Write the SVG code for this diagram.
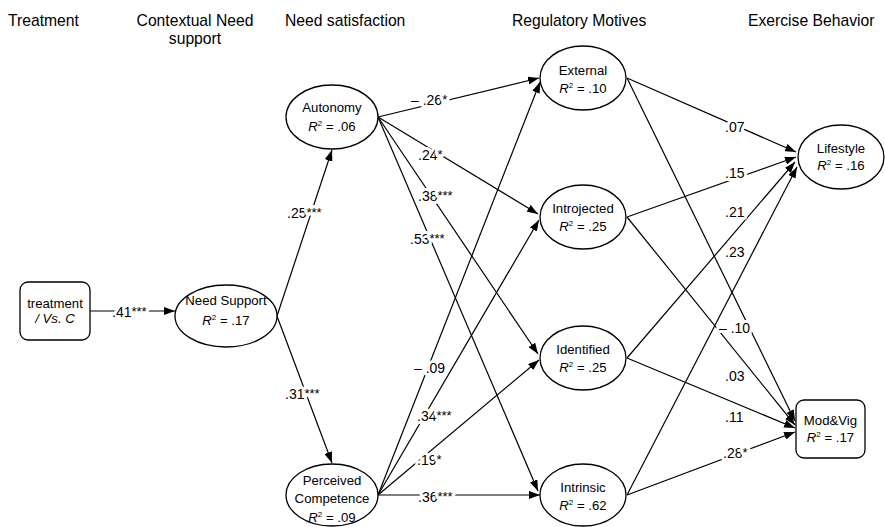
<svg xmlns="http://www.w3.org/2000/svg" width="885" height="527" viewBox="0 0 885 527">
<style>
text{font-family:"Liberation Sans",Arial,sans-serif;fill:#000}
.hd{font-size:15.7px}
.nt{font-size:13.2px;text-anchor:middle}
.it{font-style:italic}
.sup{font-size:8px}
.lbl{font-size:14px;paint-order:stroke;stroke:#fff;stroke-width:6px;stroke-linejoin:round}
.st{font-size:13px}
.node{fill:#fff;stroke:#000;stroke-width:1.3}
.edge{stroke:#000;stroke-width:1.2;fill:none}
.arr{marker-end:url(#ah)}
</style>
<defs>
<marker id="ah" markerUnits="userSpaceOnUse" markerWidth="11" markerHeight="8" refX="11" refY="4" orient="auto">
<path d="M0,0 L11,4 L0,8 z" fill="#000"/>
</marker>
</defs>
<rect width="885" height="527" fill="#fff"/>

<g id="headers">
<text class="hd" x="8" y="25.5">Treatment</text>
<text class="hd" x="195" y="25.5" text-anchor="middle">Contextual Need</text>
<text class="hd" x="195" y="43.5" text-anchor="middle">support</text>
<text class="hd" x="285" y="25.5">Need satisfaction</text>
<text class="hd" x="512" y="25.5">Regulatory Motives</text>
<text class="hd" x="748" y="25.5">Exercise Behavior</text>
</g>

<g id="connectors">
<line class="edge arr" x1="90" y1="311" x2="175" y2="311"/>
<line class="edge arr" x1="277" y1="316" x2="332" y2="150"/>
<line class="edge arr" x1="277" y1="316" x2="332" y2="463"/>
<line class="edge arr" x1="378" y1="117" x2="539" y2="78"/>
<line class="edge arr" x1="378" y1="117" x2="538" y2="214"/>
<line class="edge arr" x1="378" y1="117" x2="538" y2="354"/>
<line class="edge arr" x1="378" y1="117" x2="538" y2="491"/>
<line class="edge arr" x1="378" y1="495" x2="540" y2="82"/>
<line class="edge arr" x1="378" y1="495" x2="539" y2="220"/>
<line class="edge arr" x1="378" y1="495" x2="539" y2="360"/>
<line class="edge arr" x1="378" y1="495" x2="540" y2="495"/>
<line class="edge arr" x1="627" y1="78" x2="796" y2="152"/>
<line class="edge arr" x1="627" y1="217" x2="796" y2="157"/>
<line class="edge arr" x1="627" y1="358" x2="795" y2="162"/>
<line class="edge arr" x1="627" y1="495" x2="797" y2="167"/>
<line class="edge arr" x1="627" y1="78" x2="795" y2="421"/>
<line class="edge arr" x1="627" y1="217" x2="795" y2="425"/>
<line class="edge arr" x1="627" y1="358" x2="795" y2="428"/>
<line class="edge arr" x1="627" y1="495" x2="795" y2="432"/>
</g>

<g id="labels">
<text class="lbl" x="112" y="317">.41<tspan class="st" dy="-1.5">***</tspan></text>
<text class="lbl" x="287" y="218">.25<tspan class="st" dy="-1.5">***</tspan></text>
<text class="lbl" x="285" y="399">.31<tspan class="st" dy="-1.5">***</tspan></text>
<text class="lbl" x="411" y="105">– .26<tspan class="st" dy="-1.5">*</tspan></text>
<text class="lbl" x="418" y="160">.24<tspan class="st" dy="-1.5">*</tspan></text>
<text class="lbl" x="418" y="201">.38<tspan class="st" dy="-1.5">***</tspan></text>
<text class="lbl" x="410" y="244">.53<tspan class="st" dy="-1.5">***</tspan></text>
<text class="lbl" x="414" y="373">– .09</text>
<text class="lbl" x="417" y="421">.34<tspan class="st" dy="-1.5">***</tspan></text>
<text class="lbl" x="417" y="465">.19<tspan class="st" dy="-1.5">*</tspan></text>
<text class="lbl" x="418" y="502">.36<tspan class="st" dy="-1.5">***</tspan></text>
<text class="lbl" x="725" y="132">.07</text>
<text class="lbl" x="725" y="178">.15</text>
<text class="lbl" x="725" y="217">.21</text>
<text class="lbl" x="725" y="257">.23</text>
<text class="lbl" x="719" y="333">– .10</text>
<text class="lbl" x="725" y="381">.03</text>
<text class="lbl" x="725" y="422">.11</text>
<text class="lbl" x="723" y="458">.28<tspan class="st" dy="-1.5">*</tspan></text>
</g>

<g id="treatment">
<rect class="node" x="20" y="282" width="70" height="58" rx="8"/>
<text class="nt" x="55" y="308">treatment</text>
<text class="nt it" x="55" y="323">/ Vs. C</text>
</g>

<g id="need-support">
<ellipse class="node" cx="226" cy="316" rx="51" ry="31"/>
<text class="nt" x="226" y="305">Need Support</text>
<text class="nt" x="226" y="325"><tspan class="it">R</tspan><tspan class="sup" dy="-5">2</tspan><tspan dy="5"> = .17</tspan></text>
</g>

<g id="autonomy">
<ellipse class="node" cx="332" cy="117" rx="46" ry="32"/>
<text class="nt" x="332" y="112">Autonomy</text>
<text class="nt" x="332" y="131"><tspan class="it">R</tspan><tspan class="sup" dy="-5">2</tspan><tspan dy="5"> = .06</tspan></text>
</g>

<g id="perceived-competence">
<ellipse class="node" cx="332" cy="495" rx="46" ry="31"/>
<text class="nt" x="332" y="485">Perceived</text>
<text class="nt" x="332" y="503">Competence</text>
<text class="nt" x="332" y="522"><tspan class="it">R</tspan><tspan class="sup" dy="-5">2</tspan><tspan dy="5"> = .09</tspan></text>
</g>

<g id="external">
<ellipse class="node" cx="583" cy="78" rx="43" ry="32"/>
<text class="nt" x="583" y="75">External</text>
<text class="nt" x="583" y="93"><tspan class="it">R</tspan><tspan class="sup" dy="-5">2</tspan><tspan dy="5"> = .10</tspan></text>
</g>

<g id="introjected">
<ellipse class="node" cx="583" cy="217" rx="43" ry="32"/>
<text class="nt" x="583" y="213">Introjected</text>
<text class="nt" x="583" y="231"><tspan class="it">R</tspan><tspan class="sup" dy="-5">2</tspan><tspan dy="5"> = .25</tspan></text>
</g>

<g id="identified">
<ellipse class="node" cx="583" cy="358" rx="43" ry="32"/>
<text class="nt" x="583" y="354">Identified</text>
<text class="nt" x="583" y="372"><tspan class="it">R</tspan><tspan class="sup" dy="-5">2</tspan><tspan dy="5"> = .25</tspan></text>
</g>

<g id="intrinsic">
<ellipse class="node" cx="583" cy="495" rx="43" ry="31"/>
<text class="nt" x="583" y="492">Intrinsic</text>
<text class="nt" x="583" y="510"><tspan class="it">R</tspan><tspan class="sup" dy="-5">2</tspan><tspan dy="5"> = .62</tspan></text>
</g>

<g id="lifestyle">
<ellipse class="node" cx="841" cy="157" rx="43" ry="32"/>
<text class="nt" x="841" y="153">Lifestyle</text>
<text class="nt" x="841" y="170"><tspan class="it">R</tspan><tspan class="sup" dy="-5">2</tspan><tspan dy="5"> = .16</tspan></text>
</g>

<g id="modvig">
<rect class="node" x="796" y="400" width="69" height="58" rx="8"/>
<text class="nt" x="830.5" y="425">Mod&amp;Vig</text>
<text class="nt" x="830.5" y="442"><tspan class="it">R</tspan><tspan class="sup" dy="-5">2</tspan><tspan dy="5"> = .17</tspan></text>
</g>
</svg>
